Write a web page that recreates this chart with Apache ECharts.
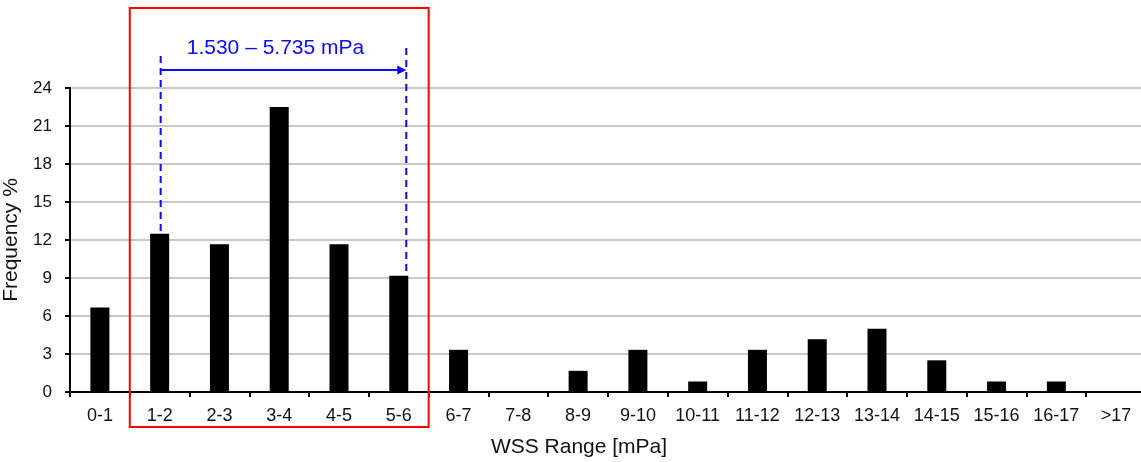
<!DOCTYPE html>
<html>
<head>
<meta charset="utf-8">
<script src="https://cdn.jsdelivr.net/npm/echarts@6/dist/echarts.min.js"></script>
<style>
  html, body { margin: 0; padding: 0; background: #fff; }
  #chart { width: 1141px; height: 462px; }
</style>
</head>
<body>
<div id="chart"></div>
<script>
// WSS range bins and their frequency (%)
const categories = ['0-1', '1-2', '2-3', '3-4', '4-5', '5-6', '6-7', '7-8', '8-9', '9-10',
  '10-11', '11-12', '12-13', '13-14', '14-15', '15-16', '16-17', '>17']
const frequency = [6.67, 12.5, 11.67, 22.5, 11.67, 9.17, 3.33, 0, 1.67, 3.33,
  0.83, 3.33, 4.17, 5.0, 2.5, 0.83, 0.83, 0]
const yMin = 0
const yMax = 24
const yStep = 3

// highlighted range
const rangeLabel = '1.530 – 5.735 mPa'
const rangeFrom = '1-2'
const rangeTo = '5-6'

const font = '"Liberation Sans", Arial, sans-serif'
const barW = 19

const chart = echarts.init(document.getElementById('chart'))

chart.setOption({
  animation: false,
  grid: {
    left: 70,
    right: -5,
    top: 88,
    bottom: 70,
    containLabel: false,
    outerBoundsMode: 'none',
  },
  xAxis: {
    type: 'category',
    data: categories,
    name: 'WSS Range [mPa]',
    nameLocation: 'middle',
    nameGap: 45,
    nameTextStyle: { fontFamily: font, fontSize: 21, color: '#111', padding: [0, 58, 0, 0] },
    axisLine: { lineStyle: { color: '#000', width: 2 } },
    axisTick: { show: true, length: 5, lineStyle: { color: '#000', width: 2 } },
    axisLabel: { fontFamily: font, fontSize: 18, color: '#111', margin: 15, interval: 0 },
  },
  yAxis: {
    type: 'value',
    min: yMin,
    max: yMax,
    interval: yStep,
    name: 'Frequency %',
    nameLocation: 'middle',
    nameGap: 37,
    nameTextStyle: { fontFamily: font, fontSize: 21, color: '#111' },
    axisLine: { show: true, lineStyle: { color: '#000', width: 2 } },
    axisTick: { show: true, length: 5, lineStyle: { color: '#000', width: 2 } },
    axisLabel: { fontFamily: font, fontSize: 17, color: '#111', margin: 18 },
    splitLine: { lineStyle: { color: '#c8c8c8', width: 2 } },
  },
  series: [{
    type: 'bar',
    data: frequency,
    barWidth: barW,
    itemStyle: { color: '#000' },
  }],
})

// annotation: red box around the range and blue dimension arrow
const px = (cat, v) => chart.convertToPixel({ xAxisIndex: 0, yAxisIndex: 0 }, [cat, v])
const band = px(categories[1], 0)[0] - px(categories[0], 0)[0]
const fromIdx = categories.indexOf(rangeFrom)
const toIdx = categories.indexOf(rangeTo)
const fromPt = px(rangeFrom, frequency[fromIdx])
const toPt = px(rangeTo, frequency[toIdx])
const boxL = fromPt[0] - band / 2
const boxR = toPt[0] + band / 2
const lx = fromPt[0] + 1
const rx = toPt[0] + barW / 2 - 2
const arrowY = 70
const blue = '#0a0aff'
const dash = { stroke: blue, lineWidth: 2, lineDash: [7, 5] }

chart.setOption({
  graphic: [
    {
      type: 'rect',
      shape: { x: boxL, y: 8, width: boxR - boxL, height: 419 },
      style: { fill: 'none', stroke: '#ff0000', lineWidth: 2 },
      z: 10,
    },
    { type: 'line', shape: { x1: lx, y1: 56, x2: lx, y2: fromPt[1] }, style: dash, z: 10 },
    { type: 'line', shape: { x1: rx, y1: 48, x2: rx, y2: toPt[1] }, style: dash, z: 10 },
    {
      type: 'line',
      shape: { x1: lx, y1: arrowY, x2: rx - 6, y2: arrowY },
      style: { stroke: blue, lineWidth: 2 },
      z: 10,
    },
    {
      type: 'polygon',
      shape: { points: [[rx, arrowY], [rx - 9, arrowY - 4.5], [rx - 9, arrowY + 4.5]] },
      style: { fill: blue },
      z: 10,
    },
    {
      type: 'text',
      style: {
        text: rangeLabel,
        x: (lx + rx) / 2 - 8,
        y: 48,
        align: 'center',
        verticalAlign: 'middle',
        font: '21px ' + font,
        fill: blue,
      },
      z: 10,
    },
  ],
})
</script>
</body>
</html>
